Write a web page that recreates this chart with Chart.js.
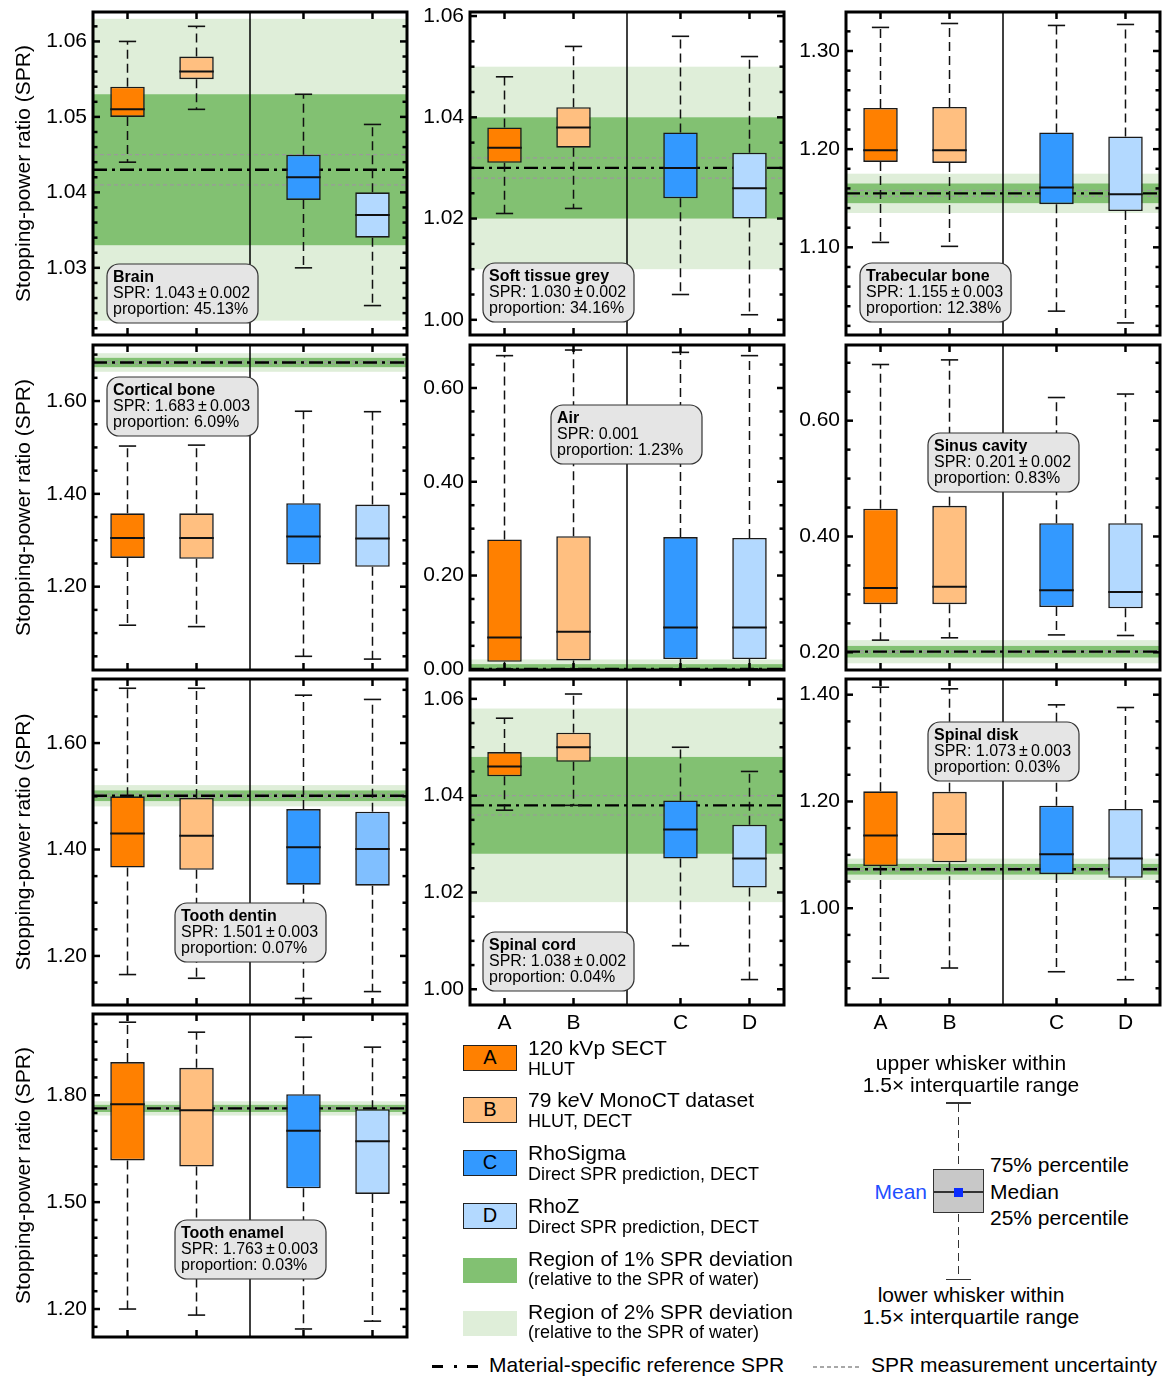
<!DOCTYPE html>
<html>
<head>
<meta charset="utf-8">
<script src="https://cdn.jsdelivr.net/npm/chart.js@4.4.1/dist/chart.umd.min.js"></script>
<style>
  html, body { margin: 0; padding: 0; background: #fff; }
  #page { position: relative; width: 1167px; height: 1376px; overflow: hidden;
          font-family: "Liberation Sans", Arial, Helvetica, sans-serif; color: #000; }
  #page canvas { position: absolute; }
  .t { position: absolute; white-space: nowrap; line-height: 1; }
  .blk { position: absolute; box-sizing: border-box; }
</style>
</head>
<body>
<div id="page"></div>
<script>
// ---------------- data ----------------
const methods = ['A', 'B', 'C', 'D'];
const methodTitles = ['120 kVp SECT', '79 k<i>e</i>V MonoCT dataset', 'RhoSigma', 'RhoZ'];
const methodNotes = ['HLUT', 'HLUT, DECT', 'Direct SPR prediction, DECT', 'Direct SPR prediction, DECT'];

const materials = ['Brain', 'Soft tissue grey', 'Trabecular bone', 'Cortical bone', 'Air',
                   'Sinus cavity', 'Tooth dentin', 'Spinal cord', 'Spinal disk', 'Tooth enamel'];
const referenceSPR = [1.043, 1.030, 1.155, 1.683, 0.001, 0.201, 1.501, 1.038, 1.073, 1.763];
const referenceUnc = [0.002, 0.002, 0.003, 0.003, null, 0.002, 0.003, 0.002, 0.003, 0.003];
const proportionPct = [45.13, 34.16, 12.38, 6.09, 1.23, 0.83, 0.07, 0.04, 0.03, 0.03];

// box statistics, one row per material, columns A B C D
const lowerWhisker = [
  [1.044, 1.051, 1.030, 1.025],
  [1.021, 1.022, 1.005, 1.001],
  [1.105, 1.101, 1.035, 1.023],
  [1.117, 1.114, 1.050, 1.044],
  [0.001, 0.001, 0.001, 0.001],
  [0.221, 0.225, 0.230, 0.229],
  [1.165, 1.158, 1.120, 1.133],
  [1.037, 1.038, 1.009, 1.002],
  [0.869, 0.888, 0.881, 0.866],
  [1.200, 1.183, 1.144, 1.166]
];
const lowerQuartile = [
  [1.050, 1.055, 1.039, 1.034],
  [1.031, 1.034, 1.024, 1.020],
  [1.187, 1.186, 1.144, 1.137],
  [1.262, 1.260, 1.248, 1.243],
  [0.016, 0.019, 0.022, 0.022],
  [0.283, 0.283, 0.278, 0.276],
  [1.366, 1.362, 1.334, 1.332],
  [1.044, 1.047, 1.027, 1.021],
  [1.079, 1.086, 1.064, 1.057],
  [1.617, 1.600, 1.539, 1.523]
];
const medianSPR = [
  [1.051, 1.056, 1.042, 1.037],
  [1.034, 1.038, 1.030, 1.026],
  [1.199, 1.199, 1.161, 1.154],
  [1.305, 1.305, 1.308, 1.304],
  [0.068, 0.080, 0.089, 0.089],
  [0.311, 0.313, 0.307, 0.304],
  [1.430, 1.426, 1.404, 1.401],
  [1.046, 1.050, 1.033, 1.027],
  [1.136, 1.139, 1.101, 1.093],
  [1.775, 1.758, 1.700, 1.671]
];
const upperQuartile = [
  [1.054, 1.058, 1.045, 1.040],
  [1.038, 1.042, 1.037, 1.033],
  [1.242, 1.243, 1.217, 1.213],
  [1.358, 1.358, 1.380, 1.377],
  [0.277, 0.284, 0.282, 0.280],
  [0.448, 0.453, 0.423, 0.423],
  [1.500, 1.497, 1.476, 1.471],
  [1.049, 1.053, 1.039, 1.034],
  [1.219, 1.218, 1.192, 1.186],
  [1.893, 1.877, 1.803, 1.761]
];
const upperWhisker = [
  [1.060, 1.062, 1.053, 1.049],
  [1.048, 1.054, 1.056, 1.052],
  [1.324, 1.328, 1.326, 1.327],
  [1.503, 1.505, 1.578, 1.577],
  [0.669, 0.681, 0.676, 0.669],
  [0.697, 0.705, 0.640, 0.646],
  [1.703, 1.703, 1.690, 1.682],
  [1.056, 1.061, 1.050, 1.045],
  [1.414, 1.411, 1.381, 1.376],
  [2.005, 1.977, 1.963, 1.935]
];

// axis ranges and tick steps
const axisMin = [1.0211, 0.997, 1.0107, 1.0205, -0.0015, 0.1694, 1.1078, 0.99675, 0.8187, 1.1215];
const axisMax = [1.0639, 1.0608, 1.3397, 1.7207, 0.6917, 0.7307, 1.7204, 1.0641, 1.4294, 2.028];
const majorStep = [0.01, 0.02, 0.1, 0.2, 0.2, 0.2, 0.2, 0.02, 0.2, 0.3];
const minorStep = [0.002, 0.005, 0.02, 0.05, 0.05, 0.05, 0.05, 0.005, 0.05, 0.05];

// ---------------- styling / layout ----------------
const FONT = '"Liberation Sans", Arial, Helvetica, sans-serif';
const methodPos = [1, 2, 3.55, 4.55];      // x positions of A B C D
const splitPos = 2.775;                     // HLUT | direct prediction divider
const boxFill = ['#ff8000', '#ffbf80', '#3399ff', '#b3d9ff'];
const boxFillOverride = { 6: { 3: '#80bfff' } };
const band1 = '#82c172';
const band2 = '#dfeed9';
const ONE_PERCENT = 0.01, TWO_PERCENT = 0.02;   // relative to water SPR = 1

const colLeft = [93, 470, 846];
const rowTop = [12, 345, 679, 1014];
const rowHeight = [323, 325, 326, 323];
const frameWidth = 314;
const panelCell = [[0,0],[0,1],[0,2],[1,0],[1,1],[1,2],[2,0],[2,1],[2,2],[3,0]];
const methodAxisShown = [false, false, false, false, false, false, false, true, true, false];
// info-box offset inside the plot frame (px)
const notePos = [[14,252],[13,251],[14,251],[14,32],[81,60],[82,88],[82,224],[13,253],[82,43],[82,206]];

const page = document.getElementById('page');

function isMajor(v, step) {
  const r = v / step;
  return Math.abs(r - Math.round(r)) < 1e-6;
}
function tickValues(min, max, step) {
  const out = [];
  let k = Math.ceil(min / step - 1e-9);
  for (; k * step <= max + 1e-9; k++) out.push(Number((k * step).toFixed(6)));
  return out;
}

const boxPlotPlugin = {
  id: 'boxPanel',
  beforeDatasetsDraw(chart, args, opts) {
    const i = opts.panel;
    const { ctx, chartArea: a, scales: { x, y } } = chart;
    const ref = referenceSPR[i];
    ctx.save();
    ctx.beginPath(); ctx.rect(a.left, a.top, a.width, a.height); ctx.clip();
    const band = (lo, hi, col) => {
      const yt = y.getPixelForValue(hi), yb = y.getPixelForValue(lo);
      ctx.fillStyle = col; ctx.fillRect(a.left, yt, a.width, yb - yt);
    };
    band(ref - TWO_PERCENT, ref + TWO_PERCENT, band2);
    band(ref - ONE_PERCENT, ref + ONE_PERCENT, band1);
    const hline = v => {
      const py = y.getPixelForValue(v);
      ctx.beginPath(); ctx.moveTo(a.left, py); ctx.lineTo(a.right, py); ctx.stroke();
    };
    if (referenceUnc[i] !== null) {
      ctx.strokeStyle = '#9a9a9a'; ctx.lineWidth = 1.2; ctx.setLineDash([4, 3]);
      hline(ref + referenceUnc[i]); hline(ref - referenceUnc[i]);
    }
    ctx.setLineDash([]);
    ctx.strokeStyle = '#000'; ctx.lineWidth = 1.5;
    const sx = x.getPixelForValue(splitPos);
    ctx.beginPath(); ctx.moveTo(sx, a.top); ctx.lineTo(sx, a.bottom); ctx.stroke();
    ctx.lineWidth = 2.3; ctx.setLineDash([14, 5, 3, 5]);
    hline(ref);
    ctx.restore();
  },
  afterDatasetsDraw(chart, args, opts) {
    const i = opts.panel;
    const { ctx, chartArea: a, scales: { x, y } } = chart;
    ctx.save();
    ctx.beginPath(); ctx.rect(a.left, a.top, a.width, a.height); ctx.clip();
    const unit = x.getPixelForValue(2) - x.getPixelForValue(1);
    const capHalf = 0.125 * unit, boxHalf = 0.25 * unit;
    methodPos.forEach((pos, j) => {
      const px = x.getPixelForValue(pos);
      const seg = (x0, y0, x1, y1) => { ctx.beginPath(); ctx.moveTo(x0, y0); ctx.lineTo(x1, y1); ctx.stroke(); };
      ctx.strokeStyle = '#111';
      ctx.lineWidth = 1.5; ctx.setLineDash([9, 5]);
      seg(px, y.getPixelForValue(upperQuartile[i][j]), px, y.getPixelForValue(upperWhisker[i][j]));
      seg(px, y.getPixelForValue(lowerQuartile[i][j]), px, y.getPixelForValue(lowerWhisker[i][j]));
      ctx.setLineDash([]); ctx.lineWidth = 1.6;
      const yh = y.getPixelForValue(upperWhisker[i][j]);
      const yl = y.getPixelForValue(lowerWhisker[i][j]);
      seg(px - capHalf, yh, px + capHalf, yh);
      seg(px - capHalf, yl, px + capHalf, yl);
      ctx.lineWidth = 2;
      const ym = y.getPixelForValue(medianSPR[i][j]);
      seg(px - boxHalf, ym, px + boxHalf, ym);
    });
    ctx.restore();
  },
  afterDraw(chart, args, opts) {
    const i = opts.panel;
    const { ctx, chartArea: a, scales: { x, y } } = chart;
    ctx.save();
    // tick marks pointing into the frame
    ctx.strokeStyle = '#000'; ctx.lineWidth = 2.5;
    const seg = (x0, y0, x1, y1) => { ctx.beginPath(); ctx.moveTo(x0, y0); ctx.lineTo(x1, y1); ctx.stroke(); };
    y.ticks.forEach(t => {
      const py = y.getPixelForValue(t.value);
      const len = isMajor(t.value, majorStep[i]) ? 7 : 4.5;
      seg(a.left, py, a.left + len, py);
      seg(a.right - len, py, a.right, py);
    });
    methodPos.forEach(pos => {
      const px = x.getPixelForValue(pos);
      seg(px, a.top, px, a.top + 7);
      seg(px, a.bottom - 7, px, a.bottom);
    });
    ctx.lineWidth = 3;
    ctx.strokeRect(a.left, a.top, a.width, a.height);

    // material info box
    const bx = a.left + notePos[i][0], by = a.top + notePos[i][1], bw = 151, bh = 59, r = 12;
    ctx.beginPath();
    ctx.moveTo(bx + r, by);
    ctx.arcTo(bx + bw, by, bx + bw, by + bh, r);
    ctx.arcTo(bx + bw, by + bh, bx, by + bh, r);
    ctx.arcTo(bx, by + bh, bx, by, r);
    ctx.arcTo(bx, by, bx + bw, by, r);
    ctx.closePath();
    ctx.fillStyle = '#e5e5e5'; ctx.fill();
    ctx.lineWidth = 1.2; ctx.strokeStyle = '#333'; ctx.stroke();
    ctx.fillStyle = '#000'; ctx.textAlign = 'left'; ctx.textBaseline = 'alphabetic';
    ctx.font = 'bold 16px ' + FONT;
    ctx.fillText(materials[i], bx + 6, by + 17.5);
    ctx.font = '16px ' + FONT;
    const ref = referenceSPR[i].toFixed(3);
    const sprLine = referenceUnc[i] === null ? 'SPR: ' + ref
                    : 'SPR: ' + ref + '\u2009\u00b1\u2009' + referenceUnc[i].toFixed(3);
    ctx.fillText(sprLine, bx + 6, by + 33.5);
    ctx.fillText('proportion: ' + proportionPct[i].toFixed(2) + '%', bx + 6, by + 49.5);
    ctx.restore();
  }
};

materials.forEach((name, i) => {
  const [r, c] = panelCell[i];
  const showX = methodAxisShown[i];
  const axisW = c === 0 ? 93 : 60;
  const padTop = 22, padRight = 6;
  const xAxisH = showX ? 34 : 0;
  const padBottom = showX ? 0 : 22;
  const W = axisW + frameWidth + padRight;
  const H = padTop + rowHeight[r] + padBottom + xAxisH;
  const cv = document.createElement('canvas');
  cv.width = W; cv.height = H;
  cv.style.left = (colLeft[c] - axisW) + 'px';
  cv.style.top = (rowTop[r] - padTop) + 'px';
  cv.style.width = W + 'px'; cv.style.height = H + 'px';
  page.appendChild(cv);

  const yTicks = tickValues(axisMin[i], axisMax[i], minorStep[i]);
  const fills = methods.map((m, j) => (boxFillOverride[i] && boxFillOverride[i][j]) || boxFill[j]);

  new Chart(cv, {
    type: 'bar',
    data: {
      datasets: [{
        data: methods.map((m, j) => ({ x: methodPos[j], y: [lowerQuartile[i][j], upperQuartile[i][j]] })),
        backgroundColor: fills,
        borderColor: '#1a1a1a',
        borderWidth: 1.6,
        borderSkipped: false,
        categoryPercentage: 1,
        barPercentage: 0.5
      }]
    },
    options: {
      responsive: false,
      animation: false,
      devicePixelRatio: 1,
      layout: { padding: { top: padTop, right: padRight, bottom: padBottom, left: 0 } },
      plugins: { legend: { display: false }, tooltip: { enabled: false }, boxPanel: { panel: i } },
      scales: {
        x: {
          type: 'linear', min: 0.5, max: 5.05, offset: false, display: showX,
          grid: { display: false, drawTicks: false, offset: false }, border: { display: false },
          afterBuildTicks: s => { s.ticks = methodPos.map(v => ({ value: v })); },
          afterFit: s => { s.height = xAxisH; },
          ticks: { autoSkip: false, maxRotation: 0, padding: 6, color: '#000',
                   font: { family: FONT, size: 21 },
                   callback: (v, idx) => methods[idx] }
        },
        y: {
          type: 'linear', min: axisMin[i], max: axisMax[i],
          grid: { display: false, drawTicks: false }, border: { display: false },
          afterBuildTicks: s => { s.ticks = yTicks.map(v => ({ value: v })); },
          afterFit: s => { s.width = axisW; },
          ticks: { autoSkip: false, padding: 6, color: '#000', font: { family: FONT, size: 21 },
                   callback: v => isMajor(v, majorStep[i]) ? v.toFixed(2) : '' },
          title: c === 0
            ? { display: true, text: 'Stopping-power ratio (SPR)', color: '#000',
                font: { family: FONT, size: 21 }, padding: { top: 12, bottom: 0 } }
            : { display: false }
        }
      }
    },
    plugins: [boxPlotPlugin]
  });
});

// ---------------- legend ----------------
function addText(html, x, baseline, size, opt = {}) {
  const d = document.createElement('div');
  d.className = 't';
  d.innerHTML = html;
  d.style.fontSize = size + 'px';
  d.style.top = (baseline - 0.8465 * size) + 'px';
  if (opt.align === 'center') { d.style.left = x + 'px'; d.style.transform = 'translateX(-50%)'; }
  else if (opt.align === 'right') { d.style.left = x + 'px'; d.style.transform = 'translateX(-100%)'; }
  else d.style.left = x + 'px';
  if (opt.color) d.style.color = opt.color;
  page.appendChild(d);
  return d;
}
function addBlock(x, y, w, h, css) {
  const d = document.createElement('div');
  d.className = 'blk';
  d.style.left = x + 'px'; d.style.top = y + 'px';
  d.style.width = w + 'px'; d.style.height = h + 'px';
  Object.assign(d.style, css || {});
  page.appendChild(d);
  return d;
}

const swatchTop = [1045, 1097, 1150, 1203];
methods.forEach((m, j) => {
  const sw = addBlock(463, swatchTop[j], 54, 26, {
    background: boxFill[j], border: '1.5px solid #222',
    fontSize: '20px', lineHeight: '23px', textAlign: 'center'
  });
  sw.textContent = m;
  addText(methodTitles[j], 528, swatchTop[j] + 9.5, 21);
  addText(methodNotes[j], 528, swatchTop[j] + 30.5, 18);
});
const bandLegendTop = [1258, 1311];
[[band1, 'Region of 1% SPR deviation'], [band2, 'Region of 2% SPR deviation']].forEach(([col, txt], k) => {
  addBlock(463, bandLegendTop[k], 54, 25, { background: col });
  addText(txt, 528, bandLegendTop[k] + 7.5, 21);
  addText('(relative to the SPR of water)', 528, bandLegendTop[k] + 27, 18);
});

// reference line sample
addBlock(432, 1365, 11, 2.5, { background: '#000' });
addBlock(454, 1365, 3, 2.5, { background: '#000' });
addBlock(467, 1365, 11, 2.5, { background: '#000' });
addText('Material-specific reference SPR', 489, 1372, 21);

// uncertainty line sample
addBlock(813, 1366, 47, 1.5, {
  background: 'repeating-linear-gradient(to right, #a8a8a8 0 4px, transparent 4px 7px)'
});
addText('SPR measurement uncertainty', 871, 1372, 21);

// box-plot key
const keyX = 958.5;
const dashV = 'repeating-linear-gradient(to bottom, #333 0 8px, transparent 8px 13px)';
addText('upper whisker within', 971, 1070, 21, { align: 'center' });
addText('1.5\u00d7 interquartile range', 971, 1091.7, 21, { align: 'center' });
addBlock(keyX - 12.5, 1102, 25, 1.5, { background: '#333' });
addBlock(keyX - 0.75, 1104, 1.5, 65, { background: dashV });
addBlock(932.7, 1169.3, 51.7, 44, { background: '#c8c8c8', border: '1.5px solid #333' });
addBlock(933, 1190.8, 51, 1.8, { background: '#333' });
addBlock(keyX - 4.5, 1187.5, 9, 9, { background: '#0a2cff' });
addBlock(keyX - 0.75, 1214, 1.5, 65, { background: dashV });
addBlock(keyX - 12.5, 1278.5, 25, 1.5, { background: '#333' });
addText('75% percentile', 990, 1171.7, 21);
addText('Median', 990, 1198.3, 21);
addText('25% percentile', 990, 1225, 21);
addText('Mean', 927, 1198.3, 21, { align: 'right', color: '#1f4fff' });
addText('lower whisker within', 971, 1301.7, 21, { align: 'center' });
addText('1.5\u00d7 interquartile range', 971, 1323.3, 21, { align: 'center' });
</script>
</body>
</html>
